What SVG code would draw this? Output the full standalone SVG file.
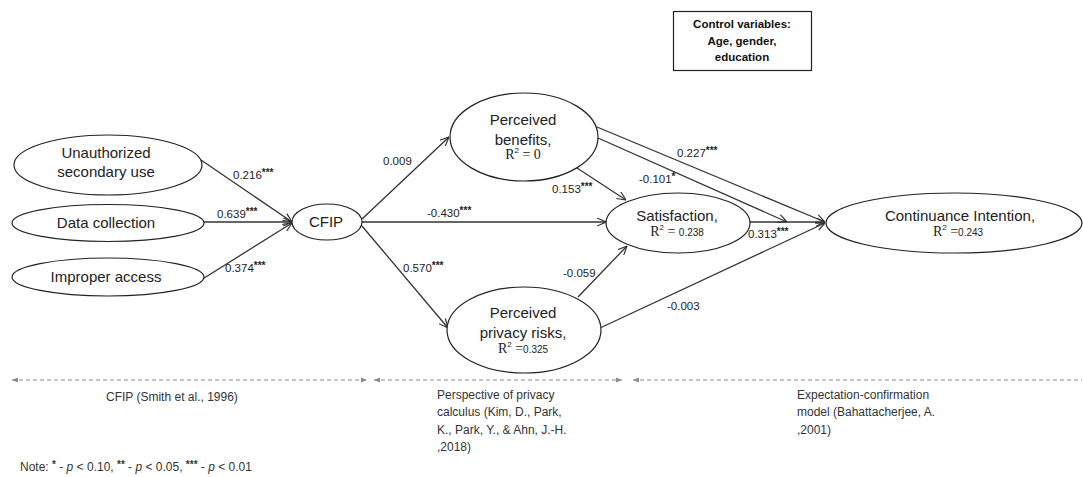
<svg xmlns="http://www.w3.org/2000/svg" width="1083" height="477" viewBox="0 0 1083 477">
<style>
.node ellipse{fill:#fff;stroke:#222;stroke-width:1.2}
.nt{font-family:"Liberation Sans",Arial,sans-serif;font-size:15px;fill:#222;text-anchor:middle}
.rs{font-family:"Liberation Serif",serif;font-size:14px}
.sup{font-size:8px}
.num{font-family:"Liberation Sans",Arial,sans-serif;font-size:10px}
.lbl{font-family:"Liberation Sans",Arial,sans-serif;font-size:11.5px;fill:#222}
.ast{font-size:10px;font-weight:bold}
.edge{stroke:#333;stroke-width:1.3;fill:none;marker-end:url(#arr)}
.dash{stroke:#8a8a8a;stroke-width:1;stroke-dasharray:4 3;fill:none}
.src{font-family:"Liberation Sans",Arial,sans-serif;font-size:12px;fill:#333}
.ctl{font-family:"Liberation Sans",Arial,sans-serif;font-size:11.5px;font-weight:bold;fill:#111;text-anchor:middle}
</style>
<defs>
<marker id="arr" viewBox="0 0 10 10" refX="10" refY="5" markerWidth="9" markerHeight="9" markerUnits="userSpaceOnUse" orient="auto">
<path d="M0,0.5 L10,5 L0,9.5" fill="none" stroke="#333" stroke-width="1.3"/>
</marker>
<marker id="garr" viewBox="0 0 10 10" refX="10" refY="5" markerWidth="7" markerHeight="6" markerUnits="userSpaceOnUse" orient="auto-start-reverse">
<path d="M0,1 L10,5 L0,9 Z" fill="#8a8a8a"/>
</marker>
</defs>

<g id="connectors">
<line class="edge" x1="201" y1="160" x2="292" y2="222"/>
<line class="edge" x1="204" y1="222" x2="292" y2="222"/>
<line class="edge" x1="201" y1="280" x2="292" y2="223"/>
<line class="edge" x1="362" y1="219" x2="449" y2="137"/>
<line class="edge" x1="362" y1="222" x2="606" y2="222"/>
<line class="edge" x1="362" y1="226" x2="448" y2="328"/>
<line class="edge" x1="577" y1="168" x2="626" y2="200"/>
<line class="edge" x1="597" y1="127" x2="825" y2="222"/>
<line class="edge" x1="598" y1="138" x2="787" y2="222"/>
<line class="edge" x1="750" y1="222" x2="825" y2="222"/>
<line class="edge" x1="578" y1="297" x2="627" y2="246"/>
<line class="edge" x1="600" y1="328" x2="825" y2="223"/>
</g>

<g id="edge-labels">
<text class="lbl" x="233" y="179">0.216<tspan class="ast" dy="-3">***</tspan></text>
<text class="lbl" x="217" y="218">0.639<tspan class="ast" dy="-3">***</tspan></text>
<text class="lbl" x="225" y="272">0.374<tspan class="ast" dy="-3">***</tspan></text>
<text class="lbl" x="383" y="165">0.009</text>
<text class="lbl" x="427" y="217">-0.430<tspan class="ast" dy="-3">***</tspan></text>
<text class="lbl" x="403" y="272">0.570<tspan class="ast" dy="-3">***</tspan></text>
<text class="lbl" x="552" y="193">0.153<tspan class="ast" dy="-3">***</tspan></text>
<text class="lbl" x="677" y="157">0.227<tspan class="ast" dy="-3">***</tspan></text>
<text class="lbl" x="639" y="183">-0.101<tspan class="ast" dy="-3">*</tspan></text>
<text class="lbl" x="748" y="238">0.313<tspan class="ast" dy="-3">***</tspan></text>
<text class="lbl" x="563" y="277">-0.059</text>
<text class="lbl" x="667" y="310">-0.003</text>
</g>

<g id="n-unauth" class="node">
<ellipse cx="108" cy="165" rx="94" ry="30"/>
<text class="nt" x="106" y="158">Unauthorized</text>
<text class="nt" x="106" y="177">secondary use</text>
</g>
<g id="n-datacoll" class="node">
<ellipse cx="108" cy="223" rx="96" ry="18.5"/>
<text class="nt" x="106" y="228">Data collection</text>
</g>
<g id="n-improper" class="node">
<ellipse cx="108" cy="277" rx="96" ry="19"/>
<text class="nt" x="106" y="282">Improper access</text>
</g>
<g id="n-cfip" class="node">
<ellipse cx="327" cy="222" rx="35" ry="18"/>
<text class="nt" x="326" y="227">CFIP</text>
</g>
<g id="n-pb" class="node">
<ellipse cx="524" cy="137" rx="74" ry="44"/>
<text class="nt" x="523" y="125">Perceived</text>
<text class="nt" x="523" y="145">benefits,</text>
<text class="nt" x="523" y="159"><tspan class="rs">R</tspan><tspan class="sup" dy="-6">2</tspan><tspan class="rs" dy="6"> = 0</tspan></text>
</g>
<g id="n-sat" class="node">
<ellipse cx="678" cy="223" rx="72" ry="30"/>
<text class="nt" x="677" y="221">Satisfaction,</text>
<text class="nt" x="677" y="236"><tspan class="rs">R</tspan><tspan class="sup" dy="-6">2</tspan><tspan class="rs" dy="6"> = </tspan><tspan class="num">0.238</tspan></text>
</g>
<g id="n-ppr" class="node">
<ellipse cx="524" cy="330" rx="77" ry="43"/>
<text class="nt" x="523" y="318">Perceived</text>
<text class="nt" x="523" y="338">privacy risks,</text>
<text class="nt" x="523" y="353"><tspan class="rs">R</tspan><tspan class="sup" dy="-6">2</tspan><tspan class="rs" dy="6"> =</tspan><tspan class="num">0.325</tspan></text>
</g>
<g id="n-ci" class="node">
<ellipse cx="954" cy="223" rx="128" ry="30"/>
<text class="nt" x="960" y="221">Continuance Intention,</text>
<text class="nt" x="958" y="236"><tspan class="rs">R</tspan><tspan class="sup" dy="-6">2</tspan><tspan class="rs" dy="6"> =</tspan><tspan class="num">0.243</tspan></text>
</g>
<g id="n-control">
<rect x="673.5" y="11.5" width="138" height="59" fill="#fff" stroke="#222" stroke-width="1.2"/>
<text class="ctl" x="742" y="28">Control variables:</text>
<text class="ctl" x="742" y="45">Age, gender,</text>
<text class="ctl" x="742" y="61">education</text>
</g>

<g id="sections">
<line class="dash" x1="12" y1="380" x2="367" y2="380" marker-start="url(#garr)" marker-end="url(#garr)"/>
<line class="dash" x1="374" y1="380" x2="622" y2="380" marker-start="url(#garr)" marker-end="url(#garr)"/>
<line class="dash" x1="633" y1="380" x2="1082" y2="380" marker-start="url(#garr)"/>
<text class="src" x="106" y="401">CFIP (Smith et al., 1996)</text>
<text class="src" x="437" y="399">Perspective of privacy</text>
<text class="src" x="437" y="416">calculus (Kim, D., Park,</text>
<text class="src" x="437" y="434">K., Park, Y., &amp; Ahn, J.-H.</text>
<text class="src" x="437" y="451">,2018)</text>
<text class="src" x="797" y="399">Expectation-confirmation</text>
<text class="src" x="797" y="416">model (Bahattacherjee, A.</text>
<text class="src" x="797" y="434">,2001)</text>
<text class="src" x="20" y="471" font-size="12">Note: <tspan font-size="10" font-weight="bold" dy="-3">*</tspan><tspan dy="3"> - </tspan><tspan font-style="italic">p</tspan> &lt; 0.10, <tspan font-size="10" font-weight="bold" dy="-3">**</tspan><tspan dy="3"> - </tspan><tspan font-style="italic">p</tspan> &lt; 0.05, <tspan font-size="10" font-weight="bold" dy="-3">***</tspan><tspan dy="3"> - </tspan><tspan font-style="italic">p</tspan> &lt; 0.01</text>
</g>
</svg>
